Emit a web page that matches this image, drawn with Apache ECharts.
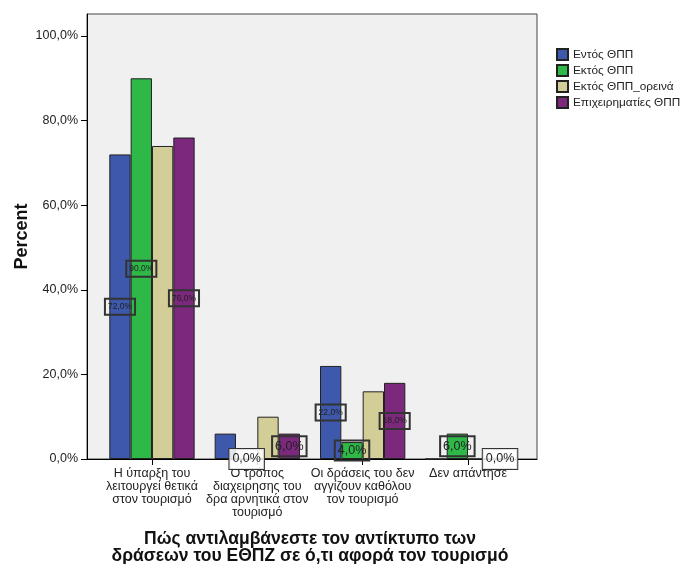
<!DOCTYPE html>
<html><head><meta charset="utf-8">
<script src="https://cdn.jsdelivr.net/npm/echarts@6/dist/echarts.min.js"></script>
<style>html,body{margin:0;padding:0;background:#fff}#c{width:683px;height:564px}</style>
</head><body><div id="c"></div>
<script>
const categories = [
  'Η ύπαρξη του\nλειτουργεί θετικά\nστον τουρισμό',
  'Ο τρόπος\nδιαχειρησης του\nδρα αρνητικά στον\nτουρισμό',
  'Οι δράσεις του δεν\nαγγίζουν καθόλου\nτον τουρισμό',
  'Δεν απάντησε'
];
const seriesNames = ['Εντός ΘΠΠ', 'Εκτός ΘΠΠ', 'Εκτός ΘΠΠ_ορεινά', 'Επιχειρηματίες ΘΠΠ'];
const entos = [72, 6, 22, 0];
const ektos = [90, 0, 4, 6];
const ektosOreina = [74, 10, 16, 0];
const epixeirimaties = [76, 6, 18, 0];
const entosLabelShown = [true, false, true, false];
const ektosLabelShown = [true, true, true, true];
const ektosOreinaLabelShown = [false, false, false, false];
const epixLabelShown = [true, true, true, true];
const yTicks = [0, 20, 40, 60, 80, 100];
const xTitle = 'Πώς αντιλαμβάνεστε τον αντίκτυπο των\nδράσεων του ΕΘΠΖ σε ό,τι αφορά τον τουρισμό';
const yTitle = 'Percent';

const colors = ['#3e58ac', '#2eb848', '#d3ce97', '#7c287d'];
const FONT = '"Liberation Sans", Arial, sans-serif';
const fmt = v => v.toFixed(1).replace('.', ',') + '%';
const YMAX = 105.2;

function buildData(values, shown) {
  return values.map((v, i) => ({
    value: v,
    label: {
      show: shown[i],
      fontSize: v >= 10 ? 8.5 : 12.5,
      padding: [4, 3, 3, 3],
      backgroundColor: v === 0 ? 'rgba(255,255,255,0.85)' : 'transparent'
    }
  }));
}
const allValues = [entos, ektos, ektosOreina, epixeirimaties];
const allShown = [entosLabelShown, ektosLabelShown, ektosOreinaLabelShown, epixLabelShown];

const chart = echarts.init(document.getElementById('c'), null, {renderer: 'canvas'});
chart.setOption({
  animation: false,
  textStyle: {fontFamily: FONT},
  color: colors,
  grid: [
    {left: 87, right: 146, top: 14, bottom: 105, outerBoundsMode: 'none', containLabel: false,
     show: true, backgroundColor: '#f0f0f0', borderColor: '#444', borderWidth: 1},
    {left: 99.3, right: 162.3, top: 14, bottom: 105, outerBoundsMode: 'none', containLabel: false}
  ],
  legend: {
    orient: 'vertical', left: 556, top: 48, padding: 0,
    itemWidth: 11, itemHeight: 11, itemGap: 3, icon: 'rect',
    data: seriesNames,
    textStyle: {fontSize: 11.8, color: '#222', fontFamily: FONT}
  },
  xAxis: [
    {type: 'value', gridIndex: 0, min: 0, max: 1,
     axisLine: {show: true, lineStyle: {color: '#000', width: 1}},
     axisTick: {show: false}, axisLabel: {show: false}, splitLine: {show: false}},
    {type: 'category', gridIndex: 1, data: categories,
     axisLine: {show: false},
     axisTick: {show: true, alignWithLabel: true, length: 6, lineStyle: {color: '#000'}},
     axisLabel: {interval: 0, fontSize: 12.5, lineHeight: 13, color: '#222', margin: 8, fontFamily: FONT},
     name: xTitle, nameLocation: 'middle', nameGap: 72, nameMoveOverlap: false,
     nameTextStyle: {fontSize: 17.5, fontWeight: 'bold', lineHeight: 17, color: '#111', fontFamily: FONT}}
  ],
  yAxis: [
    {type: 'value', gridIndex: 0, min: 0, max: YMAX,
     axisLine: {show: true, lineStyle: {color: '#000', width: 1}},
     axisTick: {show: true, length: 6, customValues: yTicks, lineStyle: {color: '#000'}},
     axisLabel: {customValues: yTicks, formatter: v => fmt(v), fontSize: 12.5, color: '#222', margin: 9, fontFamily: FONT},
     splitLine: {show: false},
     name: yTitle, nameLocation: 'middle', nameGap: 56, nameRotate: 90, nameMoveOverlap: false,
     nameTextStyle: {fontSize: 18, fontWeight: 'bold', color: '#111', fontFamily: FONT}},
    {type: 'value', gridIndex: 1, min: 0, max: YMAX, show: false, splitLine: {show: false}}
  ],
  series: seriesNames.map((name, k) => ({
    name: name, type: 'bar', xAxisIndex: 1, yAxisIndex: 1,
    barGap: '0%', barCategoryGap: '19%',
    itemStyle: {color: colors[k], borderColor: '#222', borderWidth: 1},
    label: {
      position: 'inside', formatter: p => fmt(p.value), color: '#222',
      borderColor: '#333', borderWidth: 1, fontFamily: FONT
    },
    data: buildData(allValues[k], allShown[k])
  }))
});
</script></body></html>
